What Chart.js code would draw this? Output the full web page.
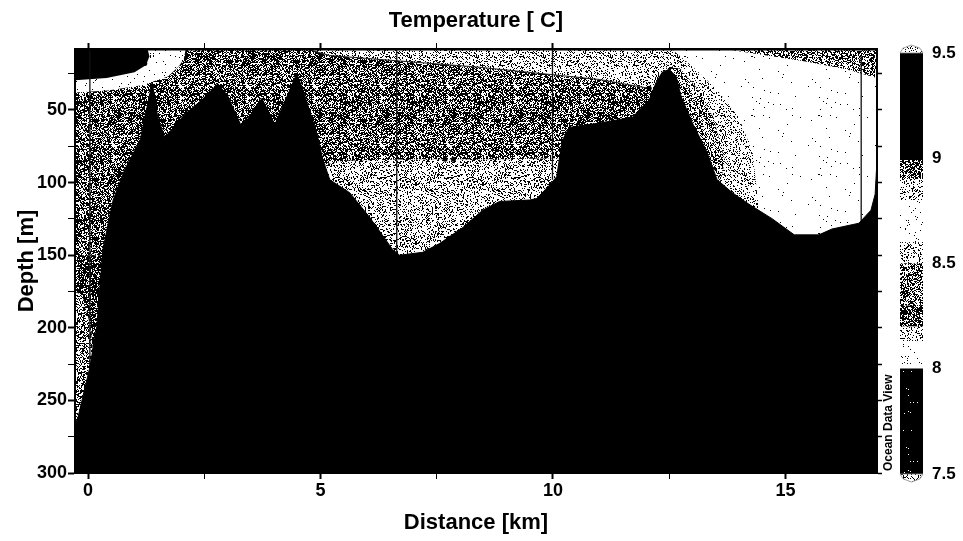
<!DOCTYPE html>
<html>
<head>
<meta charset="utf-8">
<title>Temperature section</title>
<script src="https://cdn.jsdelivr.net/npm/chart.js@4.4.1/dist/chart.umd.min.js"></script>
<style>
  html, body { margin: 0; padding: 0; background: #fff; }
  #wrap { position: relative; width: 963px; height: 541px; }
  #section { position: absolute; left: 0; top: 0; }
  #scale { position: absolute; left: 890px; top: 0; }
</style>
</head>
<body>
<div id="wrap">
  <canvas id="section" width="963" height="541"></canvas>
  <canvas id="scale" width="73" height="541"></canvas>
</div>
<script>
// axes
const distRange = [-0.28, 16.97];
const depthRange = [8, 300];
const distTicks = [0, 2.5, 5, 7.5, 10, 12.5, 15];
const distLabels = [0, 5, 10, 15];
const depthTicks = [25, 50, 75, 100, 125, 150, 175, 200, 225, 250, 275, 300];
const depthLabels = [50, 100, 150, 200, 250, 300];

// seafloor profile (km, m)
const seafloorKm = [-0.28, -0.21, 0.04, 0.19, 0.32, 0.54, 0.79, 1.12, 1.27, 1.38, 1.5, 1.65, 2.08, 2.45, 2.79, 3.0, 3.31, 3.74, 4.02, 4.49, 4.62, 4.92, 5.05, 5.2, 5.63, 6.06, 6.55, 6.7, 7.2, 7.56, 8.06, 8.49, 8.85, 9.5, 9.65, 9.92, 10.08, 10.2, 10.35, 11.0, 11.71, 12.07, 12.22, 12.35, 12.5, 12.65, 12.76, 13.0, 13.3, 13.53, 13.86, 14.22, 14.72, 15.19, 15.72, 16.0, 16.58, 16.84, 16.93, 16.97];
const seafloorDepth = [267, 261, 227, 199, 146, 112, 91, 71, 48, 31, 55, 69, 53, 43, 32, 40, 62, 42, 60, 25, 36, 66, 84, 98, 107, 124, 146, 150, 148, 142, 131, 119, 113, 112, 111, 102, 96, 71, 62, 59, 55, 43, 31, 24, 22, 27, 41, 59, 78, 98, 107, 115, 125, 136, 136, 132, 128, 119, 108, 85];

// temperature patches (outlines)
const warmCoreKm = [-0.28, 1.28, 1.32, 1.25, 1.0, 0.4, -0.28];
const warmCoreDepth = [8, 8, 13, 19, 24, 28, 29.5];
const warmRimKm = [-0.28, 2.1, 2.06, 1.95, 1.72, 1.16, 0.43, -0.28];
const warmRimDepth = [8, 8, 15, 20, 27, 33, 36.5, 38];
const upperLightKm = [4.7, 16.97, 16.97, 12.9, 12.35, 12.05, 11.0, 8.4, 5.2];
const upperLightDepth = [8, 8, 140, 140, 34, 35, 29, 20.5, 12.5];
const eastWhiteKm = [12.55, 16.97, 16.97, 14.5, 14.4, 14.3, 14.0, 13.5, 13.0];
const eastWhiteDepth = [8, 8, 140, 140, 110, 80, 55, 35, 20];
const eastHaloKm = [12.4, 12.75, 13.1, 13.45, 13.7, 13.6, 13.0];
const eastHaloDepth = [18, 22, 35, 55, 85, 100, 60];
const eastTopKm = [13.7, 16.97, 16.97, 16.3, 15.5, 14.6, 14.0];
const eastTopDepth = [8, 8, 28, 22, 17, 12.5, 9.5];
const basinKm = [5.0, 5.5, 7.0, 9.0, 10.25, 10.25, 5.0];
const basinDepth = [88, 85, 84, 84, 83, 160, 160];
const westDeepKm = [-0.28, 0.7, 0.7, -0.28];
const westDeepDepth = [150, 150, 300, 300];
const westWedgeKm = [-0.28, -0.12, 0.06, 0.1, 0.0, -0.2, -0.28];
const westWedgeDepth = [175, 178, 200, 215, 240, 262, 266];

// thin isoline, station casts, markers
const isoKm = [4.7, 5.2, 8.4, 11.0, 12.05];
const isoDepth = [8, 12.5, 20.5, 29, 35];
const stationKm = [0.04, 6.64, 9.99, 16.63];
const stationTop = [8, 8, 8, 13];
const stationBottom = [227, 150, 98, 127];
const markKm = [1.22, 7.68, 7.86, 12.07];
const markDepth = [18, 84, 84, 35];

// colour bar
const cbEdges = [7.5, 8.0, 8.13, 8.2, 8.3, 8.5, 8.6, 8.8, 8.9, 8.99, 9.5];
const cbTicks = [7.5, 8, 8.5, 9, 9.5];

// grey shades as share of black dots
const cbShade = [0.99, 0.03, 0.2, 0.72, 0.55, 0.25, 0.03, 0.2, 0.6, 1.0];
const waterShade = 0.62;

const FONT = '"Liberation Sans", Arial, Helvetica, sans-serif';
Chart.defaults.font.family = FONT;
Chart.defaults.color = '#000';

function hash(n) {
  n = Math.imul(n ^ (n >>> 16), 0x45d9f3b);
  n = Math.imul(n ^ (n >>> 16), 0x45d9f3b);
  return ((n ^ (n >>> 16)) >>> 0) / 4294967296;
}

const patterns = {};
function dither(density, seed) {
  const key = density + ':' + seed;
  if (patterns[key]) return patterns[key];
  const w = 67, h = 59;
  const c = document.createElement('canvas');
  c.width = w; c.height = h;
  const g = c.getContext('2d');
  const img = g.createImageData(w, h);
  for (let i = 0; i < w * h; i++) {
    const v = hash(i * 7 + seed * 104729 + 1) < density ? 0 : 255;
    img.data[i * 4] = img.data[i * 4 + 1] = img.data[i * 4 + 2] = v;
    img.data[i * 4 + 3] = 255;
  }
  g.putImageData(img, 0, 0);
  patterns[key] = g.createPattern(c, 'repeat');
  return patterns[key];
}

const pts = (km, depth) => km.map((x, i) => ({ x, y: depth[i] }));

function patch(km, depth, fillStyle, order) {
  return { data: pts(km, depth), showLine: true, fill: 'shape', backgroundColor: fillStyle,
           borderWidth: 0, pointRadius: 0, order };
}

const fixedTicks = values => scale => { scale.ticks = values.map(v => ({ value: v })); };

const datasets = [
  patch(upperLightKm, upperLightDepth, dither(0.22, 5), 30),
  patch(eastWhiteKm, eastWhiteDepth, dither(0.01, 6), 29),
  patch(eastHaloKm, eastHaloDepth, dither(0.45, 12), 28.5),
  patch(eastTopKm, eastTopDepth, dither(0.5, 7), 28),
  patch(basinKm, basinDepth, dither(0.26, 8), 27),
  patch(westDeepKm, westDeepDepth, dither(0.74, 9), 26),
  patch(westWedgeKm, westWedgeDepth, dither(0.45, 10), 25),
  patch(warmRimKm, warmRimDepth, dither(0.02, 11), 24),
  patch(warmCoreKm, warmCoreDepth, '#000', 23),
  { data: pts(isoKm, isoDepth), showLine: true, fill: false, borderColor: '#222',
    borderWidth: 1, pointRadius: 0, order: 22 },
  ...stationKm.map((k, i) => ({
    data: [{ x: k, y: stationTop[i] }, { x: k, y: stationBottom[i] }],
    showLine: true, fill: false, borderColor: '#111', borderWidth: 1.3, pointRadius: 0, order: 21
  })),
  { data: pts(seafloorKm, seafloorDepth), showLine: true, fill: { value: depthRange[1] },
    backgroundColor: '#000', borderColor: '#000', borderWidth: 1, pointRadius: 0, order: 10 },
  { data: pts(markKm, markDepth), showLine: false, pointRadius: 2.5, pointBackgroundColor: '#000',
    pointBorderWidth: 0, order: 5 }
];

const sectionDecor = {
  id: 'sectionDecor',
  beforeDatasetsDraw(chart) {
    const { ctx, chartArea: a } = chart;
    ctx.save();
    ctx.fillStyle = dither(waterShade, 3);
    ctx.fillRect(a.left, a.top, a.right - a.left, a.bottom - a.top);
    ctx.restore();
  },
  afterDraw(chart) {
    const { ctx, chartArea: a } = chart;
    ctx.save();
    ctx.translate(a.right + 12, a.bottom - 2);
    ctx.rotate(-Math.PI / 2);
    ctx.font = 'bold 12px ' + FONT;
    ctx.fillStyle = '#000';
    ctx.textAlign = 'left';
    ctx.textBaseline = 'middle';
    ctx.fillText('Ocean Data View', 0, 0);
    ctx.restore();
  }
};

const tickFont = { size: 18, weight: 'bold' };
const titleFont = { size: 22, weight: 'bold' };

new Chart(document.getElementById('section'), {
  type: 'scatter',
  data: { datasets },
  options: {
    responsive: false,
    animation: false,
    layout: { padding: 0 },
    plugins: {
      legend: { display: false },
      tooltip: { enabled: false },
      title: { display: true, text: 'Temperature [ C]', font: titleFont, color: '#000',
               fullSize: false, padding: { top: 8, bottom: 0 } }
    },
    scales: {
      x: {
        type: 'linear', position: 'bottom', min: distRange[0], max: distRange[1],
        afterBuildTicks: fixedTicks(distTicks),
        afterFit: s => { s.height = 68; },
        ticks: { callback: v => distLabels.includes(v) ? String(v) : '', font: tickFont,
                 padding: 1, autoSkip: false, maxRotation: 0 },
        grid: { drawOnChartArea: false, tickLength: 6, tickColor: '#000',
                tickWidth: c => distLabels.includes(c.tick && c.tick.value) ? 2 : 1 },
        border: { color: '#000', width: 2, z: 1 },
        title: { display: true, text: 'Distance [km]', font: titleFont, color: '#000',
                 padding: { top: 0, bottom: 5 } }
      },
      xTop: {
        type: 'linear', position: 'top', min: distRange[0], max: distRange[1],
        afterBuildTicks: fixedTicks(distTicks),
        afterFit: s => { s.height = 14.6; },
        ticks: { display: false },
        grid: { drawOnChartArea: false, tickLength: 6, tickColor: '#000',
                tickWidth: c => distLabels.includes(c.tick && c.tick.value) ? 2 : 1 },
        border: { color: '#000', width: 2.5, z: 1 }
      },
      y: {
        type: 'linear', position: 'left', reverse: true, min: depthRange[0], max: depthRange[1],
        afterBuildTicks: fixedTicks(depthTicks),
        afterFit: s => { s.width = 75; },
        ticks: { callback: v => depthLabels.includes(v) ? String(v) : '', font: tickFont,
                 padding: 1, autoSkip: false },
        grid: { drawOnChartArea: false, tickLength: 7, tickColor: '#000',
                tickWidth: c => depthLabels.includes(c.tick && c.tick.value) ? 2 : 1 },
        border: { color: '#000', width: 2, z: 1 },
        title: { display: true, text: 'Depth [m]', font: titleFont, color: '#000',
                 padding: { top: 14, bottom: 0 } }
      },
      yRight: {
        type: 'linear', position: 'right', reverse: true, min: depthRange[0], max: depthRange[1],
        afterBuildTicks: fixedTicks(depthTicks),
        afterFit: s => { s.width = 86; },
        ticks: { display: false },
        grid: { drawOnChartArea: false, tickLength: 5, tickColor: '#000', tickWidth: 1.5 },
        border: { color: '#000', width: 2, z: 1 }
      }
    }
  },
  plugins: [sectionDecor]
});

// colour bar
const cbArrows = {
  id: 'cbArrows',
  afterDatasetsDraw(chart) {
    const { ctx, chartArea: a } = chart;
    const mid = (a.left + a.right) / 2;
    ctx.save();
    ctx.fillStyle = dither(0.18, 41);
    ctx.strokeStyle = '#888';
    ctx.lineWidth = 0.8;
    [[a.top, -8], [a.bottom, 8]].forEach(([y0, d]) => {
      ctx.beginPath();
      ctx.moveTo(a.left, y0);
      ctx.lineTo(a.left + 3, y0 + d * 0.6);
      ctx.lineTo(mid, y0 + d);
      ctx.lineTo(a.right - 3, y0 + d * 0.6);
      ctx.lineTo(a.right, y0);
      ctx.closePath();
      ctx.fill();
      ctx.stroke();
    });
    ctx.restore();
  }
};

new Chart(document.getElementById('scale'), {
  type: 'bar',
  data: {
    labels: [''],
    datasets: cbShade.map((d, i) => ({
      data: [[cbEdges[i], cbEdges[i + 1]]],
      backgroundColor: dither(d, 20 + i),
      borderWidth: 0, grouped: false, barPercentage: 1, categoryPercentage: 1
    }))
  },
  options: {
    responsive: false,
    animation: false,
    layout: { padding: { left: 10, right: 0, top: 53, bottom: 67 } },
    plugins: { legend: { display: false }, tooltip: { enabled: false } },
    scales: {
      x: { display: false },
      y: {
        position: 'right', min: cbEdges[0], max: cbEdges[cbEdges.length - 1],
        afterBuildTicks: fixedTicks(cbTicks),
        afterFit: s => { s.width = 40; },
        ticks: { callback: v => String(v), font: { size: 17, weight: 'bold' }, padding: 9 },
        grid: { display: false, drawTicks: false },
        border: { display: false }
      }
    }
  },
  plugins: [cbArrows]
});
</script>
</body>
</html>
